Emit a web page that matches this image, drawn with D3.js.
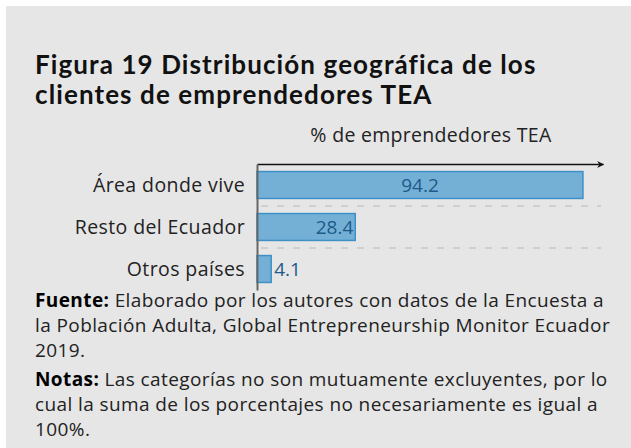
<!DOCTYPE html>
<html>
<head>
<meta charset="utf-8">
<script src="https://cdn.jsdelivr.net/npm/d3@7"></script>
<style>
  body { margin: 0; background: #fff; }
  svg { display: block; }
</style>
</head>
<body>
<div id="chart"></div>
<script>
// datos de la figura
var categorias = ["Área donde vive", "Resto del Ecuador", "Otros países"];
var valores = [94.2, 28.4, 4.1];
var titulo = ["Figura 19 Distribución geográfica de los", "clientes de emprendedores TEA"];
var ejeTitulo = "% de emprendedores TEA";
var fuente = ["Elaborado por los autores con datos de la Encuesta a",
              "la Población Adulta, Global Entrepreneurship Monitor Ecuador",
              "2019."];
var notas = ["Las categorías no son mutuamente excluyentes, por lo",
             "cual la suma de los porcentajes no necesariamente es igual a",
             "100%."];

var data = categorias.map(function (c, i) {
    return {name: c, value: valores[i]};
});

var width = 631,
    height = 448,
    x0 = 257,
    x1 = 603,
    yTop = 164,
    yBot = 290;

var svg = d3.select("#chart")
    .append("svg")
    .attr("width", width)
    .attr("height", height);

svg.append("rect")
    .attr("x", 6).attr("y", 6)
    .attr("width", width - 6).attr("height", height - 6)
    .attr("fill", "#e6e6e6");

var bodyFont = "'Open Sans', 'Noto Sans', sans-serif";

// titulo
svg.append("text")
    .attr("x", 35).attr("y", 74)
    .style("font-family", "Lato, 'Open Sans', sans-serif")
    .style("font-weight", "bold")
    .style("font-size", "26px")
    .style("letter-spacing", "1.1px")
    .attr("fill", "#111")
    .selectAll("tspan")
    .data(titulo)
    .enter().append("tspan")
    .attr("x", 35)
    .attr("dy", function (d, i) { return i ? 30 : 0; })
    .text(function (d) { return d; });

var x = d3.scaleLinear()
    .domain([0, 100])
    .range([x0, x1]);

var y = d3.scaleBand()
    .domain(categorias)
    .range([yTop, yBot])
    .paddingInner(0.36)
    .paddingOuter(0.18);

// titulo del eje
svg.append("text")
    .attr("x", (x0 + x1) / 2 + 1).attr("y", 142)
    .attr("text-anchor", "middle")
    .style("font-family", bodyFont)
    .style("font-size", "19.5px")
    .style("letter-spacing", "0.3px")
    .attr("fill", "#222")
    .text(ejeTitulo);

// lineas punteadas entre categorias
var gap = y.step() - y.bandwidth();
svg.selectAll("line.sep")
    .data(categorias.slice(0, -1))
    .enter().append("line")
    .attr("class", "sep")
    .attr("x1", x(0) + 4)
    .attr("x2", x(100) - 2)
    .attr("y1", function (d) { return y(d) + y.bandwidth() + gap / 2; })
    .attr("y2", function (d) { return y(d) + y.bandwidth() + gap / 2; })
    .attr("stroke", "#cfcfcf")
    .attr("stroke-width", 2)
    .attr("stroke-dasharray", "7,9");

// barras
svg.selectAll("rect.bar")
    .data(data)
    .enter().append("rect")
    .attr("class", "bar")
    .attr("x", x(0))
    .attr("y", function (d) { return y(d.name); })
    .attr("width", function (d) { return x(d.value) - x(0); })
    .attr("height", y.bandwidth())
    .attr("fill", "#74b0d6")
    .attr("stroke", "#3d90c8")
    .attr("stroke-width", 1.5);

// etiquetas de valores
svg.selectAll("text.val")
    .data(data)
    .enter().append("text")
    .attr("class", "val")
    .attr("x", function (d) {
        if (d.value > 50) return (x(0) + x(d.value)) / 2;
        if (d.value > 10) return x(d.value) - 2;
        return x(d.value) + 3;
    })
    .attr("y", function (d) { return y(d.name) + y.bandwidth() / 2 + 7; })
    .attr("text-anchor", function (d) {
        if (d.value > 50) return "middle";
        if (d.value > 10) return "end";
        return "start";
    })
    .style("font-family", bodyFont)
    .style("font-size", "19px")
    .attr("fill", "#1d5a8a")
    .text(function (d) { return d3.format(".1f")(d.value); });

// categorias
svg.selectAll("text.cat")
    .data(data)
    .enter().append("text")
    .attr("class", "cat")
    .attr("x", x0 - 12)
    .attr("y", function (d) { return y(d.name) + y.bandwidth() / 2 + 7; })
    .attr("text-anchor", "end")
    .style("font-family", bodyFont)
    .style("font-size", "19.5px")
    .style("letter-spacing", "0.4px")
    .attr("fill", "#222")
    .text(function (d) { return d.name; });

// eje horizontal con flecha
svg.append("defs").append("marker")
    .attr("id", "flecha")
    .attr("viewBox", "0 0 10 10")
    .attr("refX", 9).attr("refY", 5)
    .attr("markerWidth", 7).attr("markerHeight", 7)
    .attr("markerUnits", "userSpaceOnUse")
    .attr("orient", "auto")
    .append("path")
    .attr("d", "M0,0 L10,5 L0,10 L3,5 Z")
    .attr("fill", "#111");

var axisTop = d3.axisTop(x).tickValues([]).tickSizeOuter(0);
var gx = svg.append("g")
    .attr("transform", "translate(0," + yTop + ")")
    .call(axisTop);
gx.select(".domain")
    .attr("stroke", "#111")
    .attr("stroke-width", 1.5)
    .attr("marker-end", "url(#flecha)");

// eje vertical
var axisLeft = d3.axisLeft(y).tickValues([]).tickSizeOuter(0);
var gy = svg.append("g")
    .attr("transform", "translate(" + x0 + ",0)")
    .call(axisLeft);
gy.select(".domain")
    .attr("stroke", "#666")
    .attr("stroke-width", 2);

// notas al pie
function bloque(etiqueta, lineas, y0) {
    var t = svg.append("text")
        .attr("x", 35).attr("y", y0)
        .style("font-family", bodyFont)
        .style("font-size", "19px")
        .style("letter-spacing", "0.4px")
        .attr("fill", "#222");
    lineas.forEach(function (l, i) {
        var ts = t.append("tspan")
            .attr("x", 35)
            .attr("y", y0 + i * 25);
        if (i === 0) {
            ts.append("tspan").style("font-weight", "bold").attr("fill", "#000").text(etiqueta + " ");
            ts.append("tspan").text(l);
        } else {
            ts.text(l);
        }
    });
}
bloque("Fuente:", fuente, 307);
bloque("Notas:", notas, 386);
</script>
</body>
</html>
